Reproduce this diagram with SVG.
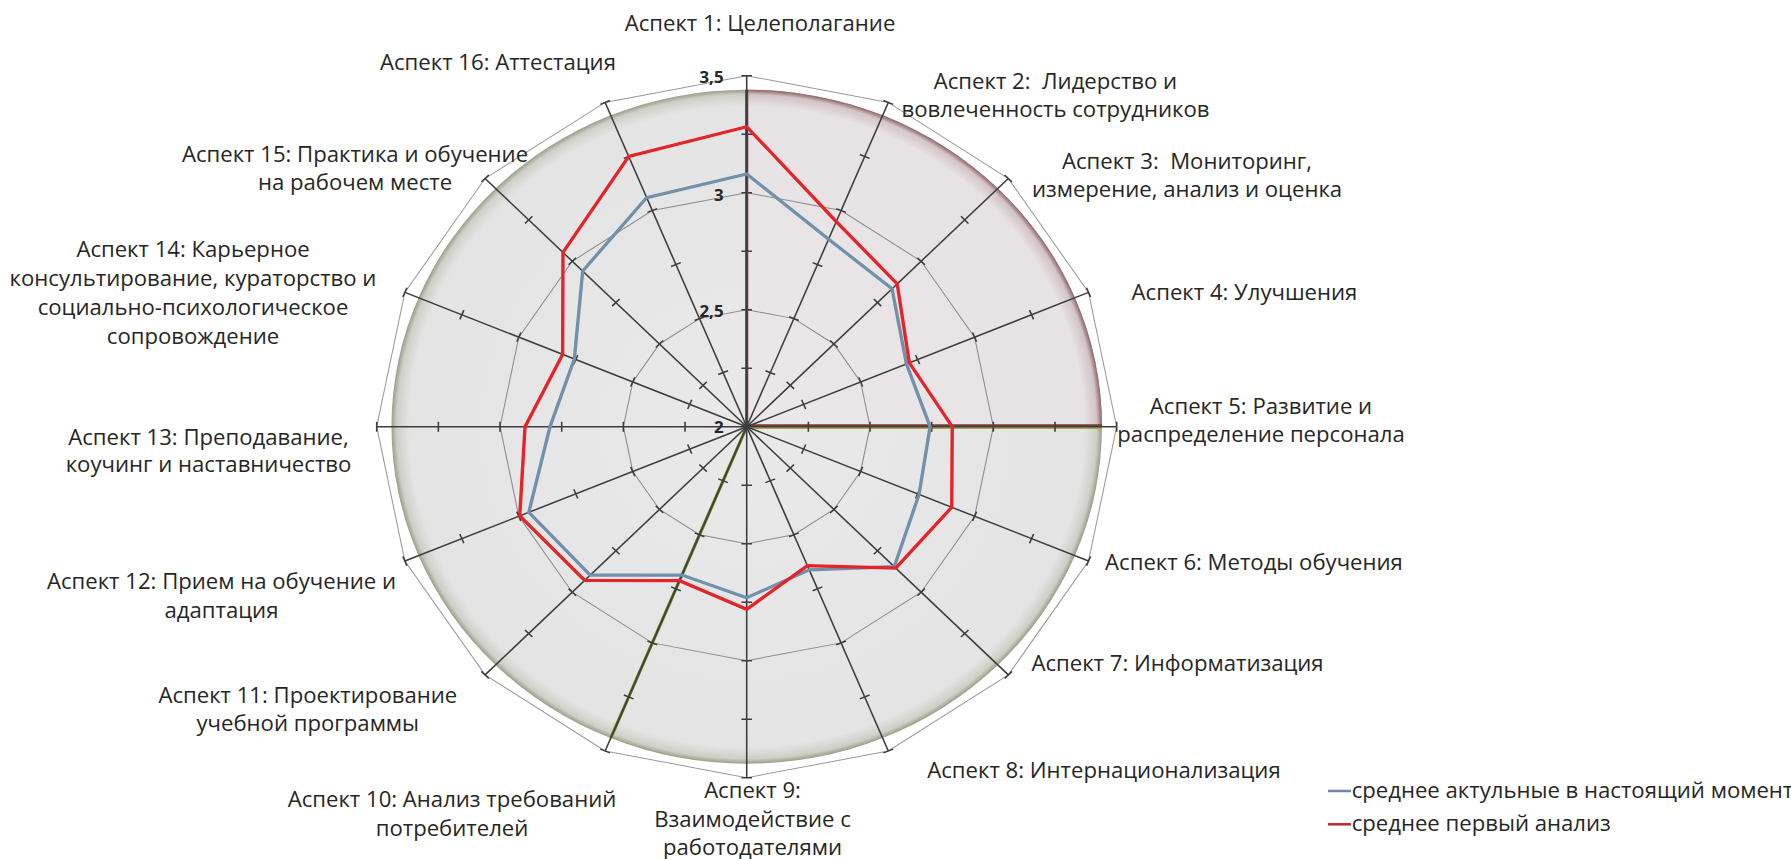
<svg xmlns="http://www.w3.org/2000/svg" xmlns:xlink="http://www.w3.org/1999/xlink" width="1791" height="859" viewBox="0 0 1791 859">
<style>
.lbl{font-family:"Open Sans","DejaVu Sans",sans-serif;font-size:21px;fill:#262626;text-anchor:middle}
.tk{font-family:"Open Sans","DejaVu Sans",sans-serif;font-size:16px;font-weight:bold;fill:#262626;text-anchor:end}
.leg{font-family:"Open Sans","DejaVu Sans",sans-serif;font-size:21px;fill:#262626}
.grid{fill:none;stroke:#8c8c8c;stroke-width:1}
.ax{stroke:#3d3d3d;stroke-width:1.5;fill:none}
.ser{fill:none;stroke-width:3.2;stroke-linejoin:miter}
</style>
<defs>
<radialGradient id="gGray" gradientUnits="userSpaceOnUse" cx="0" cy="0" r="337">
<stop offset="0" stop-color="#e9e9e9"/>
<stop offset="0.95" stop-color="#e4e4e4"/>
<stop offset="0.985" stop-color="#cfcfc8"/>
<stop offset="1" stop-color="#9c9c88"/>
</radialGradient>
<radialGradient id="gPink" gradientUnits="userSpaceOnUse" cx="0" cy="0" r="337">
<stop offset="0" stop-color="#ebe8e9"/>
<stop offset="0.95" stop-color="#e7e2e4"/>
<stop offset="0.985" stop-color="#d2c4c7"/>
<stop offset="1" stop-color="#8f6468"/>
</radialGradient>
<g id="spoke" class="ax">
<line x1="0" y1="0" x2="0" y2="-351"/>
<path d="M-5,-58.5H5M-5,-117H5M-5,-175.5H5M-5,-234H5M-5,-292.5H5M-5,-351H5"/>
</g>
</defs>
<rect x="0" y="0" width="1791" height="859" fill="#ffffff"/>
<g id="chart" transform="translate(746.7,426.7) scale(1.0541,1)">
<g id="background">
<polygon points="0,-351 134.32,-324.28 248.2,-248.2 324.28,-134.32 351,0 324.28,134.32 248.2,248.2 134.32,324.28 0,351 -134.32,324.28 -248.2,248.2 -324.28,134.32 -351,0 -324.28,-134.32 -248.2,-248.2 -134.32,-324.28" fill="#ffffff" stroke="#9a9a9a" stroke-width="1"/>
<circle cx="0" cy="0" r="337" fill="url(#gGray)"/>
<path d="M0,0 L0,-337 A337,337 0 0 1 337,0 Z" fill="url(#gPink)"/>
<line x1="0" y1="0" x2="0" y2="-337" stroke="#7a3a3a" stroke-width="3"/>
<line x1="0" y1="-1" x2="337" y2="-1" stroke="#7a3a3a" stroke-width="3"/>
<line x1="0" y1="1.5" x2="337" y2="1.5" stroke="#a8a838" stroke-width="1.5"/>
<line x1="0" y1="0" x2="-128.96" y2="311.34" stroke="#6f7e1e" stroke-width="3"/>
</g>
<g id="grid">
<polygon class="grid" points="0,-234 89.55,-216.19 165.46,-165.46 216.19,-89.55 234,0 216.19,89.55 165.46,165.46 89.55,216.19 0,234 -89.55,216.19 -165.46,165.46 -216.19,89.55 -234,0 -216.19,-89.55 -165.46,-165.46 -89.55,-216.19"/>
<polygon class="grid" points="0,-117 44.77,-108.09 82.73,-82.73 108.09,-44.77 117,0 108.09,44.77 82.73,82.73 44.77,108.09 0,117 -44.77,108.09 -82.73,82.73 -108.09,44.77 -117,0 -108.09,-44.77 -82.73,-82.73 -44.77,-108.09"/>
</g>
<g id="axes">
<use xlink:href="#spoke" href="#spoke"/>
<use xlink:href="#spoke" href="#spoke" transform="rotate(22.5)"/>
<use xlink:href="#spoke" href="#spoke" transform="rotate(45)"/>
<use xlink:href="#spoke" href="#spoke" transform="rotate(67.5)"/>
<use xlink:href="#spoke" href="#spoke" transform="rotate(90)"/>
<use xlink:href="#spoke" href="#spoke" transform="rotate(112.5)"/>
<use xlink:href="#spoke" href="#spoke" transform="rotate(135)"/>
<use xlink:href="#spoke" href="#spoke" transform="rotate(157.5)"/>
<use xlink:href="#spoke" href="#spoke" transform="rotate(180)"/>
<use xlink:href="#spoke" href="#spoke" transform="rotate(202.5)"/>
<use xlink:href="#spoke" href="#spoke" transform="rotate(225)"/>
<use xlink:href="#spoke" href="#spoke" transform="rotate(247.5)"/>
<use xlink:href="#spoke" href="#spoke" transform="rotate(270)"/>
<use xlink:href="#spoke" href="#spoke" transform="rotate(292.5)"/>
<use xlink:href="#spoke" href="#spoke" transform="rotate(315)"/>
<use xlink:href="#spoke" href="#spoke" transform="rotate(337.5)"/>
</g>
<g id="series">
<polygon id="series-blue" class="ser" stroke="#7190aa" points="0,-252.7 77.7,-187.5 137.9,-137.9 151.5,-62.8 174,0 163.5,67.7 140,140 59.3,143.2 0,171 -61.4,148.3 -148.5,148.5 -206.7,85.6 -186.6,0 -163.5,-67.7 -155.6,-155.6 -94.9,-229.1"/>
<polygon id="series-red" class="ser" stroke="#e5232a" points="0,-300 85,-205.1 142.8,-142.8 154.3,-63.9 195,0 194.5,80.6 141.4,141.4 57.6,139 0,182.6 -63.8,154 -153.7,153.7 -215.3,89.2 -210.3,0 -174.6,-72.3 -174.3,-174.3 -111.9,-270.2"/>
</g>
</g>
<g id="labels" transform="scale(1.0541,1)">
<g id="scale-labels">
<text class="tk" x="686.4" y="83.3">3,5</text>
<text class="tk" x="686.4" y="200.7">3</text>
<text class="tk" x="686.4" y="316.7">2,5</text>
<text class="tk" x="686.4" y="433.3">2</text>
</g>
<g id="aspect1"><text class="lbl" x="721" y="30.7">Аспект 1: Целеполагание</text></g>
<g id="aspect2"><text class="lbl" x="1001.3" y="89">Аспект 2:&#160; Лидерство и</text><text class="lbl" x="1001.3" y="117">вовлеченность сотрудников</text></g>
<g id="aspect3"><text class="lbl" x="1126.1" y="169.4">Аспект 3:&#160; Мониторинг,</text><text class="lbl" x="1126.1" y="196.7">измерение, анализ и оценка</text></g>
<g id="aspect4"><text class="lbl" x="1180.6" y="300">Аспект 4: Улучшения</text></g>
<g id="aspect5"><text class="lbl" x="1196.3" y="414.3">Аспект 5: Развитие и</text><text class="lbl" x="1196.3" y="442.4">распределение персонала</text></g>
<g id="aspect6"><text class="lbl" x="1189.6" y="570.2">Аспект 6: Методы обучения</text></g>
<g id="aspect7"><text class="lbl" x="1117.1" y="670.8">Аспект 7: Информатизация</text></g>
<g id="aspect8"><text class="lbl" x="1047.3" y="778.3">Аспект 8: Интернационализация</text></g>
<g id="aspect9"><text class="lbl" x="713.9" y="798.3">Аспект 9:</text><text class="lbl" x="713.9" y="826.7">Взаимодействие с</text><text class="lbl" x="713.9" y="855">работодателями</text></g>
<g id="aspect10"><text class="lbl" x="428.8" y="806.7">Аспект 10: Анализ требований</text><text class="lbl" x="428.8" y="836">потребителей</text></g>
<g id="aspect11"><text class="lbl" x="292" y="703.3">Аспект 11: Проектирование</text><text class="lbl" x="292" y="730.7">учебной программы</text></g>
<g id="aspect12"><text class="lbl" x="210.1" y="589.2">Аспект 12: Прием на обучение и</text><text class="lbl" x="210.1" y="617.9">адаптация</text></g>
<g id="aspect13"><text class="lbl" x="197.8" y="444.9">Аспект 13: Преподавание,</text><text class="lbl" x="197.8" y="472.5">коучинг и наставничество</text></g>
<g id="aspect14"><text class="lbl" x="183.1" y="257.4">Аспект 14: Карьерное</text><text class="lbl" x="183.1" y="286">консультирование, кураторство и</text><text class="lbl" x="183.1" y="315.5">социально-психологическое</text><text class="lbl" x="183.1" y="344.2">сопровождение</text></g>
<g id="aspect15"><text class="lbl" x="336.8" y="161.7">Аспект 15: Практика и обучение</text><text class="lbl" x="336.8" y="190.4">на рабочем месте</text></g>
<g id="aspect16"><text class="lbl" x="472.4" y="70">Аспект 16: Аттестация</text></g>
</g>
<g id="legend">
<line x1="1328" y1="791" x2="1351" y2="791" stroke="#6f86b0" stroke-width="2.5"/>
<line x1="1328" y1="824.3" x2="1351" y2="824.3" stroke="#c0282e" stroke-width="2.5"/>
<g transform="scale(1.0541,1)">
<text class="leg" x="1282.3" y="797.7">среднее актульные в настоящий момент</text>
<text class="leg" x="1282.3" y="831">среднее первый анализ</text>
</g>
</g>
</svg>
